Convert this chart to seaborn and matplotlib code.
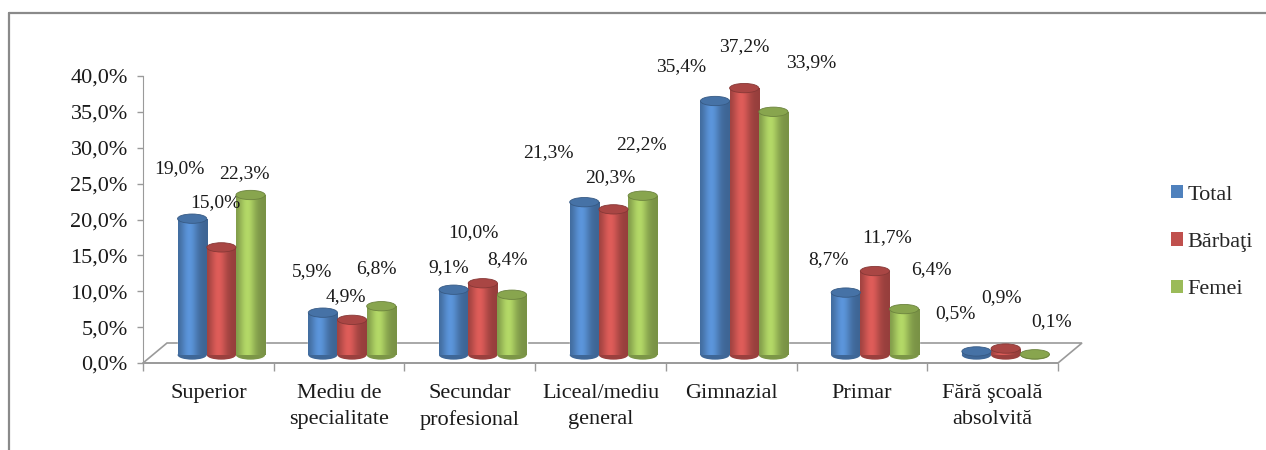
import numpy as np
import pandas as pd
import matplotlib
matplotlib.use("Agg")
import matplotlib.pyplot as plt
import seaborn as sns
from matplotlib.patches import Ellipse, Polygon, Patch
from matplotlib.lines import Line2D
from matplotlib.colors import to_rgb

categories = ["Superior", "Mediu de\nspecialitate", "Secundar\nprofesional",
              "Liceal/mediu\ngeneral", "Gimnazial", "Primar", "Fără şcoală\nabsolvită"]
series = ["Total", "Bărbaţi", "Femei"]
total = [19.0, 5.9, 9.1, 21.3, 35.4, 8.7, 0.5]
barbati = [15.0, 4.9, 10.0, 20.3, 37.2, 11.7, 0.9]
femei = [22.3, 6.8, 8.4, 22.2, 33.9, 6.4, 0.1]
y_ticks = [0, 5, 10, 15, 20, 25, 30, 35, 40]
colors = ["#4F81BD", "#C0504D", "#9BBB59"]

# data-label placement (pixel offsets from each bar top, as in the reference layout)
label_dx = [[-13, -11, -5, -36, -34, -17, -21],
            [-6, -6, -9, -3, 0, 12, -4],
            [-6, -5, -4, -1, 38, 27, 17]]
label_dy = [[50, 41, 22, 50, 34, 33, 38],
            [45, 23, 51, 32, 41, 33, 51],
            [21, 38, 35, 51, 49, 39, 33]]

df = pd.DataFrame({
    "Nivel": categories * 3,
    "Serie": [s for s in series for _ in categories],
    "Valoare": total + barbati + femei,
})

sns.set_style("white")
plt.rcParams["font.family"] = ["Liberation Serif", "DejaVu Serif"]

W, H = 1266, 450
fig = plt.figure(figsize=(W / 100, H / 100), dpi=100)

# outer chart frame (top and left edges visible)
fig.add_artist(Line2D([9 / W, 9 / W], [0, 1 - 13 / H], color="#8a8a8a", lw=1.6))
fig.add_artist(Line2D([9 / W, 1], [1 - 13 / H, 1 - 13 / H], color="#8a8a8a", lw=1.6))

# back axes: value axis, floor, category labels
ax0_l, ax0_b = 143 / W, (H - 363) / H
ax_w, ax_h = 915 / W, 287 / H
ax0 = fig.add_axes([ax0_l, ax0_b, ax_w, ax_h])
ax0.set_xlim(-0.5, 6.5)
ax0.set_ylim(0, 40)
for s in ["top", "right", "bottom"]:
    ax0.spines[s].set_visible(False)
ax0.spines["left"].set_color("#9a9a9a")
ax0.set_yticks(y_ticks)
ax0.set_yticklabels([f"{v:.1f}%".replace(".", ",") for v in y_ticks])
ax0.tick_params(axis="y", direction="out", length=4, width=1, color="#9a9a9a",
                labelsize=16, pad=7, labelcolor="#1a1a1a", left=True)
ax0.set_xticks(range(len(categories)))
ax0.set_xticklabels(categories, linespacing=1.5)
ax0.set_xticks(np.arange(-0.5, len(categories)), minor=True)
ax0.tick_params(axis="x", which="major", length=0, labelsize=16, pad=15,
                labelcolor="#1a1a1a", bottom=True)
ax0.tick_params(axis="x", which="minor", direction="out", length=6, width=1,
                color="#9a9a9a", bottom=True)

dx = 24 / (915 / 7)
dy = 20 / (287 / 40)
floor = Polygon([(-0.5, 0), (6.5, 0), (6.5 + dx, dy), (-0.5 + dx, dy)],
                closed=True, facecolor="white", edgecolor="#9a9a9a", lw=1.2,
                clip_on=False, zorder=1)
ax0.add_patch(floor)
ax0.plot([-0.5, 6.5], [0, 0], color="#9a9a9a", lw=1.2, clip_on=False, zorder=2)

# front axes: cylinders
ax1 = fig.add_axes([(143 + 13) / W, (H - 355) / H, ax_w, ax_h])
ax1.set_facecolor("none")
sns.barplot(data=df, x="Nivel", y="Valoare", hue="Serie", order=categories,
            hue_order=series, palette=colors, saturation=1, width=0.67, gap=0,
            ax=ax1, legend=False, errorbar=None)

cap_h = 1.3
t = np.linspace(0, 1, 64)
profile = 0.78 + 0.38 * np.exp(-((t - 0.38) / 0.28) ** 2)
for si, (container, col) in enumerate(zip(ax1.containers, colors)):
    base = np.array(to_rgb(col))
    grad = np.clip(profile[:, None] * base[None, :], 0, 1)[None, :, :]
    for ci, bar in enumerate(container):
        x0, w, h = bar.get_x(), bar.get_width(), bar.get_height()
        cx = x0 + w / 2
        ax1.add_patch(Ellipse((cx, 0), w, cap_h, facecolor=np.clip(base * 0.8, 0, 1),
                              edgecolor="none", zorder=1.5, clip_on=False))
        bar.set_zorder(2)
        im = ax1.imshow(grad, extent=[x0, x0 + w, 0, h], aspect="auto",
                        zorder=2.1, interpolation="bilinear")
        im.set_clip_path(bar)
        ax1.add_patch(Ellipse((cx, h), w, cap_h, facecolor=np.clip(base * 0.88, 0, 1),
                              edgecolor=np.clip(base * 0.7, 0, 1), lw=0.6,
                              zorder=3, clip_on=False))
        ax1.annotate(f"{h:.1f}%".replace(".", ","), (cx, h),
                     xytext=(label_dx[si][ci], label_dy[si][ci]),
                     textcoords="offset pixels", ha="center", va="center",
                     fontsize=14, color="#1a1a1a", annotation_clip=False)

ax1.set_xlim(-0.5, 6.5)
ax1.set_ylim(0, 40)
ax1.axis("off")

handles = [Patch(facecolor=c, edgecolor="none") for c in colors]
fig.legend(handles, series, loc="upper left", bbox_to_anchor=(1160 / W, 1 - 174 / H),
           frameon=False, fontsize=16, handlelength=0.55, handleheight=0.55,
           handletextpad=0.2, labelspacing=1.25, borderpad=0)

fig.savefig("out.png", dpi=100)
